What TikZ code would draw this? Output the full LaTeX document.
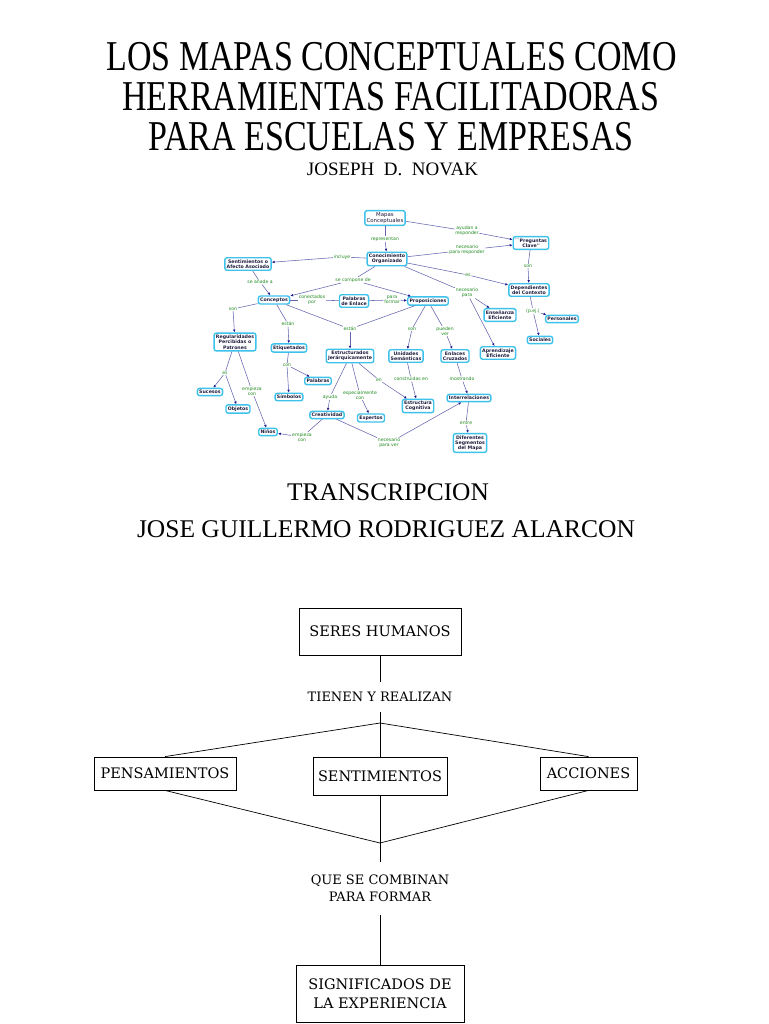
\documentclass[tikz,border=0pt]{standalone}
\usepackage{fontspec}
\setmainfont{Liberation Serif}
\newfontfamily\slabfont{DejaVu Serif}
\newfontfamily\mapfont{DejaVu Sans}
\usepackage{graphicx}
\usetikzlibrary{arrows.meta,positioning}
\definecolor{mapcyan}{HTML}{3EC2EC}
\definecolor{mapink}{HTML}{1E1E40}
\definecolor{linkgreen}{HTML}{1F8A1F}
\definecolor{edgeblue}{HTML}{6666B0}
\definecolor{tipblue}{HTML}{1A1A8C}
\tikzset{
  concept/.style={
    rectangle, rounded corners=2.2pt, draw=mapcyan, line width=1.4pt,
    fill=white, align=center, inner sep=1.8pt, text=mapink,
    font=\mapfont\bfseries\fontsize{4.7}{5.3}\selectfont
  },
  linkword/.style={
    fill=white, inner sep=0.6pt, align=center, text=linkgreen,
    font=\mapfont\fontsize{4.6}{5}\selectfont
  },
  mapedge/.style={draw=edgeblue, line width=0.55pt},
  maparrow/.style={mapedge, -{Latex[length=2.8pt,width=2.6pt,color=tipblue]}},
  titleline/.style={inner sep=0pt, font=\fontsize{34}{34}\selectfont},
  bigbox/.style={
    rectangle, draw=black, line width=0.8pt, fill=white, align=center,
    inner sep=2pt, font=\slabfont\fontsize{14.5}{19}\selectfont
  },
  bigword/.style={inner sep=0pt, align=center, font=\slabfont\fontsize{13}{17}\selectfont},
  bigline/.style={draw=black, line width=0.7pt},
}

\begin{document}
\begin{tikzpicture}[x=1pt, y=-1pt]
  \useasboundingbox (0,0) rectangle (768,1024);
  \fill[white] (0,0) rectangle (768,1024);

  % titles
  \node[titleline] (tit1) at (391.5,57) {\scalebox{1}[1.25]{LOS MAPAS CONCEPTUALES COMO}};
  \node[titleline] (tit2) at (390.5,97) {\scalebox{1}[1.25]{HERRAMIENTAS FACILITADORAS}};
  \node[titleline] (tit3) at (391,137) {\scalebox{1}[1.25]{PARA ESCUELAS Y EMPRESAS}};
  \node[inner sep=0pt, font=\fontsize{19}{19}\selectfont] (autor) at (392.5,169) {JOSEPH\ \ D.\ \ NOVAK};

  % small concept map
  \node[concept, font=\mapfont\fontsize{5.4}{6}\selectfont] (mapas) at (385,218) {Mapas\\Conceptuales};
  \node[concept] (conoc) at (387,259) {Conocimiento\\Organizado};
  \node[concept] (senti) at (248,264) {Sentimientos o\\Afecto Asociado};
  \node[concept] (preg) at (531,243) {``Preguntas\\Clave''};
  \node[concept] (depen) at (529,290) {Dependientes\\del Contexto};
  \node[concept] (conce) at (274,300) {Conceptos};
  \node[concept] (palen) at (354,301) {Palabras\\de Enlace};
  \node[concept] (propo) at (428,301) {Proposiciones};
  \node[concept] (ensen) at (500,315) {Enseñanza\\Eficiente};
  \node[concept] (perso) at (562,319) {Personales};
  \node[concept] (socia) at (540,340) {Sociales};
  \node[concept] (aprend) at (498,353) {Aprendizaje\\Eficiente};
  \node[concept] (regul) at (235,342) {Regularidades\\Percibidas o\\Patrones};
  \node[concept] (etiq) at (289,348) {Etiquetados};
  \node[concept] (estru) at (350,356) {Estructurados\\Jerárquicamente};
  \node[concept] (unid) at (406,356) {Unidades\\Semánticas};
  \node[concept] (enlac) at (455,356) {Enlaces\\Cruzados};
  \node[concept] (suces) at (210,392) {Sucesos};
  \node[concept] (objet) at (238,409) {Objetos};
  \node[concept] (palab) at (318,381) {Palabras};
  \node[concept] (simb) at (289,397) {Símbolos};
  \node[concept] (creat) at (327,415) {Creatividad};
  \node[concept] (exper) at (371,418) {Expertos};
  \node[concept] (ecog) at (418,406) {Estructura\\Cognitiva};
  \node[concept] (inter) at (469,398) {Interrelaciones};
  \node[concept] (ninos) at (268,432) {Niños};
  \node[concept] (difer) at (470,443) {Diferentes\\Segmentos\\del Mapa};

  \node[linkword] (l1) at (385,239) {representan};
  \node[linkword] (l2) at (467,231) {ayudan a\\responder};
  \node[linkword] (l3) at (467,250) {necesario\\para responder};
  \node[linkword] (l4) at (342,257) {incluye};
  \node[linkword] (l5) at (468,275) {es};
  \node[linkword] (l6) at (353,280) {se compone de};
  \node[linkword] (l7) at (467,293) {necesario\\para};
  \node[linkword] (l8) at (528,266) {son};
  \node[linkword] (l9) at (533,311) {(p.ej.)};
  \node[linkword] (l10) at (260,282) {se añade a};
  \node[linkword] (l11) at (312,300) {conectados\\por};
  \node[linkword] (l12) at (392,300) {para\\formar};
  \node[linkword] (l13) at (233,309) {son};
  \node[linkword] (l14) at (288,324) {están};
  \node[linkword] (l15) at (350,329) {están};
  \node[linkword] (l16) at (225,373) {es};
  \node[linkword] (l17) at (252,391) {empieza\\con};
  \node[linkword] (l18) at (287,365) {con};
  \node[linkword] (l19) at (330,397) {ayuda};
  \node[linkword] (l20) at (360,395) {especialmente\\con};
  \node[linkword] (l21) at (379,380) {en};
  \node[linkword] (l22) at (412,329) {son};
  \node[linkword] (l23) at (445,331) {pueden\\ver};
  \node[linkword] (l24) at (411,379) {construidas en};
  \node[linkword] (l25) at (462,379) {mostrando};
  \node[linkword] (l26) at (466,423) {entre};
  \node[linkword] (l27) at (302,437) {empieza\\con};
  \node[linkword] (l28) at (389,443) {necesario\\para ver};

  \foreach \a/\b in {mapas/l1,mapas/l2,conoc/l3,conoc/l4,conoc/l5,conoc/l6,conoc/l7,
      preg/l8,depen/l9,senti/l10,conce/l11,palen/l12,conce/l13,conce/l14,conce/l15,
      propo/l15,regul/l16,regul/l17,etiq/l18,estru/l19,estru/l20,estru/l21,propo/l22,
      propo/l23,unid/l24,enlac/l25,inter/l26,creat/l27,creat/l28}
    \draw[mapedge] (\a) -- (\b);
  \draw[mapedge] (l11) -- (palen);
  \foreach \a/\b in {l1/conoc,l2/preg,l3/preg,l4/senti,l5/depen,l6/conce,l6/propo,
      l7/ensen,l7/aprend,l8/depen,l9/perso,l9/socia,l10/conce,l12/propo,l13/regul,
      l14/etiq,l15/estru,l16/suces,l16/objet,l17/ninos,l18/palab,l18/simb,l19/creat,
      l20/exper,l21/ecog,l22/unid,l23/enlac,l24/ecog,l25/inter,l26/difer,l27/ninos,
      l28/inter}
    \draw[maparrow] (\a) -- (\b);

  % transcription heading
  \node[inner sep=0pt, font=\fontsize{25.4}{25.4}\selectfont] (transc) at (388,492) {TRANSCRIPCION};
  \node[inner sep=0pt, font=\fontsize{25.5}{25.5}\selectfont] (jose) at (386,529) {JOSE GUILLERMO RODRIGUEZ ALARCON};

  % transcribed map
  \node[bigbox, minimum width=162, minimum height=47] (seres) at (380,631.5) {SERES HUMANOS};
  \node[bigword, minimum height=29] (tienen) at (380,697) {TIENEN Y REALIZAN};
  \coordinate (split) at (380,723);
  \node[bigbox, minimum width=142, minimum height=33] (pensa) at (165,773.5) {PENSAMIENTOS};
  \node[bigbox, minimum width=134, minimum height=38] (sentim) at (380,776) {SENTIMIENTOS};
  \node[bigbox, minimum width=97, minimum height=33] (accio) at (588.5,773.5) {ACCIONES};
  \coordinate (merge) at (380,843);
  \node[bigword, minimum height=53] (combina) at (380,888.5) {QUE SE COMBINAN\\PARA FORMAR};
  \node[bigbox, minimum width=168, minimum height=57] (signi) at (380,993.5) {SIGNIFICADOS DE\\LA EXPERIENCIA};

  \draw[bigline] (seres) -- (tienen);
  \draw[bigline] (tienen) -- (split);
  \foreach \b in {pensa,sentim,accio}
    \draw[bigline] (split) -- (\b.north);
  \foreach \b in {pensa,sentim,accio}
    \draw[bigline] (\b.south) -- (merge);
  \draw[bigline] (merge) -- (combina);
  \draw[bigline] (combina) -- (signi);
\end{tikzpicture}
\end{document}
